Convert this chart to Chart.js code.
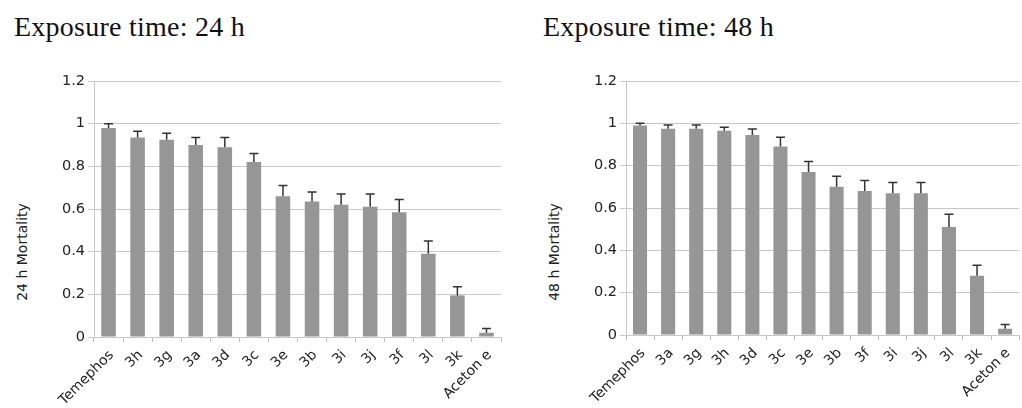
<!DOCTYPE html>
<html>
<head>
<meta charset="utf-8">
<script src="https://cdn.jsdelivr.net/npm/chart.js@4.4.1/dist/chart.umd.min.js"></script>
<style>
    body { margin: 0; background: #fff; width: 1022px; height: 408px; overflow: hidden; position: relative; }
    .title { position: absolute; top: 13px; font: 28px "Liberation Serif", serif; line-height: 1; letter-spacing: 0.25px; color: #111; white-space: nowrap; }
    .ytitle { position: absolute; font: 14px "DejaVu Sans", sans-serif; color: #222; white-space: nowrap;
              transform: translate(-50%, -50%) rotate(-90deg); }
    canvas { position: absolute; top: 50px; }
</style>
</head>
<body>

<div class="title" style="left:14px">Exposure time: 24 h</div>
<div class="title" style="left:543px">Exposure time: 48 h</div>
<div class="ytitle" style="left:22px; top:252px">24 h Mortality</div>
<div class="ytitle" style="left:554px; top:252px">48 h Mortality</div>

<canvas id="chart24" width="511" height="358" style="left:0"></canvas>
<canvas id="chart48" width="511" height="358" style="left:511px"></canvas>

<script>

/* =======================
   DADOS
======================= */

const labels24 = ["Temephos", "3h", "3g", "3a", "3d", "3c", "3e", "3b", "3i", "3j", "3f", "3l", "3k", "Aceton e"];
const mortality24 = [0.98, 0.935, 0.925, 0.90, 0.89, 0.82, 0.66, 0.635, 0.62, 0.61, 0.585, 0.39, 0.195, 0.02];
const error24 = [0.02, 0.03, 0.03, 0.035, 0.045, 0.04, 0.05, 0.045, 0.05, 0.06, 0.06, 0.06, 0.04, 0.02];

const labels48 = ["Temephos", "3a", "3g", "3h", "3d", "3c", "3e", "3b", "3f", "3i", "3j", "3l", "3k", "Aceton e"];
const mortality48 = [0.99, 0.975, 0.975, 0.965, 0.945, 0.89, 0.77, 0.70, 0.68, 0.67, 0.67, 0.51, 0.28, 0.03];
const error48 = [0.01, 0.017, 0.017, 0.017, 0.028, 0.044, 0.05, 0.05, 0.05, 0.05, 0.05, 0.06, 0.05, 0.02];

const yMin = 0;
const yMax = 1.2;
const yStep = 0.2;

/* =======================
   BARRAS DE ERRO
======================= */

const errorBars = {
    id: "errorBars",
    afterDatasetsDraw(chart) {
        const ctx = chart.ctx;
        const yScale = chart.scales.y;
        const meta = chart.getDatasetMeta(0);
        const values = chart.data.datasets[0].data;
        const errors = chart.data.datasets[0].errors;

        ctx.save();
        ctx.strokeStyle = "#333";
        ctx.lineWidth = 1.5;

        meta.data.forEach((bar, i) => {
            const top = yScale.getPixelForValue(values[i] + errors[i]);
            ctx.beginPath();
            ctx.moveTo(bar.x, bar.y);
            ctx.lineTo(bar.x, top);
            ctx.moveTo(bar.x - 4.5, top);
            ctx.lineTo(bar.x + 4.5, top);
            ctx.stroke();
        });

        ctx.restore();
    }
};

function makeChart(id, labels, values, errors, yWidth, xHeight, padRight, rightBorder) {

    new Chart(
        document.getElementById(id),
        {
            type: "bar",
            data: {
                labels: labels,
                datasets: [{
                    data: values,
                    errors: errors,
                    backgroundColor: "#969696",
                    barPercentage: 0.5,
                    categoryPercentage: 1
                }]
            },
            options: {
                responsive: false,
                animation: false,
                layout: { padding: { left: 0, right: padRight, top: 31, bottom: 0 } },
                plugins: { legend: { display: false }, tooltip: { enabled: false } },
                scales: {
                    x: {
                        grid: {
                            offset: true,
                            drawOnChartArea: rightBorder,
                            color: c => (c.index === labels.length ? "#c8c8c8" : "rgba(0,0,0,0)"),
                            tickColor: "#bdbdbd",
                            tickLength: 5
                        },
                        border: { color: "#c8c8c8" },
                        ticks: {
                            autoSkip: false,
                            minRotation: 45,
                            maxRotation: 45,
                            padding: 5,
                            labelOffset: 3,
                            color: "#222",
                            font: { family: "DejaVu Sans", size: 14 }
                        },
                        afterFit: s => { s.height = xHeight; }
                    },
                    y: {
                        min: yMin,
                        max: yMax,
                        grid: { color: "#c8c8c8", tickLength: 6 },
                        border: { color: "#c8c8c8" },
                        ticks: {
                            stepSize: yStep,
                            padding: 3,
                            color: "#222",
                            font: { family: "DejaVu Sans", size: 14.5 },
                            callback: v => String(Number(v.toFixed(2)))
                        },
                        afterFit: s => { s.width = yWidth; }
                    }
                }
            },
            plugins: [errorBars]
        }
    );
}

document.addEventListener("DOMContentLoaded", () => {

    makeChart("chart24", labels24, mortality24, error24, 94, 71, 10, true);

    makeChart("chart48", labels48, mortality48, error48, 115, 73, 0, false);

});
</script>
</body>
</html>
